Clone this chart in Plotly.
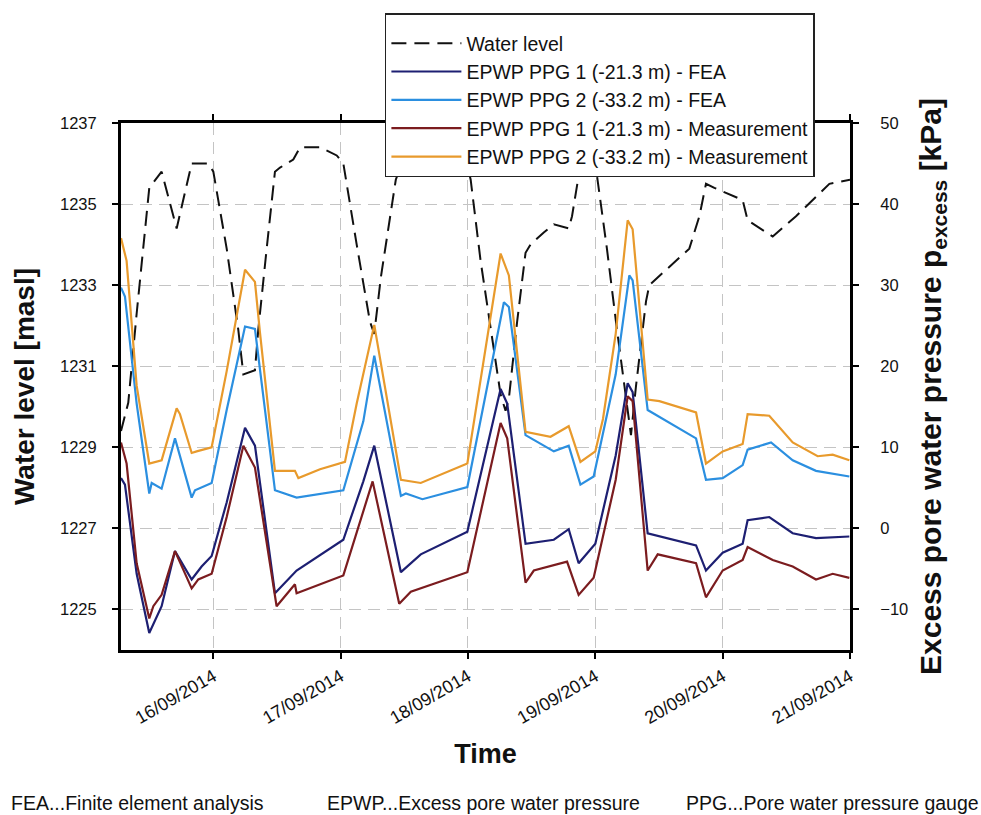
import pandas as pd
import plotly.graph_objects as go

# ---- data (time in days relative to 16/09/2014 00:00) ----
wl_t = [-0.725, -0.668, -0.602, -0.503, -0.406, -0.288, -0.170, -0.039, 0.0, 0.105, 0.196, 0.236,
        0.327, 0.353, 0.419, 0.484, 0.524, 0.628, 0.681, 0.838, 0.969, 1.021, 1.126, 1.230, 1.264,
        1.316, 1.433, 1.55, 1.95, 2.021, 2.099, 2.204, 2.256, 2.295, 2.321, 2.386, 2.452, 2.491,
        2.595, 2.674, 2.791, 2.817, 2.869, 2.94, 3.013, 3.091, 3.170, 3.280, 3.319, 3.398, 3.424,
        3.529, 3.738, 3.817, 3.869, 3.935, 4.157, 4.196, 4.393, 4.576, 4.838, 5.0]
wl_v = [1229.4, 1230.1, 1232.3, 1235.4, 1235.8, 1234.4, 1236.0, 1236.0, 1235.8, 1233.9, 1231.9, 1230.8,
        1230.9, 1231.9, 1233.9, 1235.8, 1235.9, 1236.1, 1236.4, 1236.4, 1236.2, 1236.0, 1234.0, 1232.1, 1231.8,
        1233.2, 1235.6, 1236.6, 1236.6, 1235.6, 1233.6, 1231.4, 1230.3, 1229.9, 1230.2, 1232.1, 1233.8, 1234.0,
        1234.3, 1234.5, 1234.4, 1234.7, 1235.7, 1236.5, 1235.7, 1233.9, 1231.9, 1229.3, 1230.5, 1232.6, 1233.0,
        1233.3, 1233.9, 1234.7, 1235.5, 1235.4, 1235.1, 1234.6, 1234.2, 1234.7, 1235.5, 1235.6]

fea1_t = [-0.725, -0.694, -0.602, -0.503, -0.406, -0.301, -0.170, -0.092, -0.013, 0.105, 0.249, 0.327,
          0.484, 0.654, 1.021, 1.178, 1.264, 1.473, 1.629, 1.995, 2.256, 2.308, 2.452, 2.674, 2.791,
          2.869, 3.0, 3.16, 3.254, 3.293, 3.411, 3.791, 3.869, 4.0, 4.157, 4.196, 4.366, 4.550, 4.733, 4.995]
fea1_p = [6.2, 5.4, -5.6, -12.9, -9.6, -2.8, -6.3, -4.7, -3.4, 3.2, 12.4, 10.2,
          -8.0, -5.2, -1.4, 5.8, 10.2, -5.4, -3.2, -0.4, 17.2, 15.4, -1.9, -1.4, -0.1,
          -4.3, -1.9, 9.0, 17.9, 16.8, -0.6, -2.1, -5.2, -3.0, -1.9, 1.0, 1.4, -0.6, -1.2, -1.0]

fea2_t = [-0.725, -0.694, -0.602, -0.503, -0.484, -0.406, -0.301, -0.170, -0.144, -0.013, 0.105, 0.249,
          0.327, 0.484, 0.654, 1.021, 1.178, 1.264, 1.473, 1.512, 1.642, 1.995, 2.282, 2.321, 2.452,
          2.674, 2.791, 2.883, 2.987, 3.16, 3.267, 3.293, 3.411, 3.791, 3.869, 4.0, 4.157, 4.196, 4.380,
          4.550, 4.733, 4.995]
fea2_p = [29.7, 28.6, 15.4, 4.3, 5.6, 4.9, 11.1, 3.8, 4.7, 5.6, 14.6, 24.9,
          24.6, 4.7, 3.8, 4.7, 13.2, 21.3, 4.0, 4.3, 3.6, 5.1, 27.9, 27.3, 11.5,
          9.5, 10.2, 5.4, 6.4, 19.0, 31.2, 30.6, 14.6, 11.1, 6.0, 6.2, 7.8, 9.7, 10.6,
          8.4, 7.1, 6.4]

meas1_t = [-0.725, -0.681, -0.602, -0.503, -0.471, -0.406, -0.301, -0.170, -0.118, -0.013, 0.105, 0.236,
           0.327, 0.497, 0.641, 0.654, 1.021, 1.178, 1.251, 1.460, 1.551, 1.995, 2.256, 2.308, 2.452,
           2.517, 2.778, 2.869, 2.987, 3.16, 3.254, 3.293, 3.411, 3.490, 3.791, 3.869, 4.0, 4.157, 4.196,
           4.393, 4.550, 4.733, 4.864, 4.995]
meas1_p = [10.6, 8.0, -4.3, -11.1, -9.6, -8.2, -2.8, -7.4, -6.3, -5.6, 1.4, 10.2,
           7.5, -9.6, -6.9, -8.0, -5.8, 2.3, 5.8, -9.3, -7.8, -5.4, 13.0, 11.1, -6.7,
           -5.2, -4.1, -8.2, -6.1, 6.0, 16.3, 15.7, -5.2, -3.2, -4.3, -8.5, -5.2, -3.9, -2.3,
           -3.9, -4.7, -6.3, -5.6, -6.1]

meas2_t = [-0.725, -0.681, -0.602, -0.503, -0.406, -0.288, -0.262, -0.170, -0.131, -0.013, 0.105, 0.249,
           0.327, 0.366, 0.484, 0.641, 0.668, 0.838, 1.034, 1.126, 1.264, 1.473, 1.629, 1.995, 2.256,
           2.321, 2.452, 2.648, 2.791, 2.883, 3.0, 3.06, 3.16, 3.254, 3.293, 3.411, 3.503, 3.791, 3.869,
           4.0, 4.157, 4.196, 4.366, 4.550, 4.746, 4.864, 4.995]
meas2_p = [35.8, 33.0, 17.6, 8.0, 8.4, 14.8, 14.1, 9.3, 9.5, 10.0, 19.4, 31.9,
           30.4, 24.2, 7.1, 7.1, 6.2, 7.3, 8.2, 15.4, 25.1, 6.0, 5.6, 8.0, 33.9,
           31.2, 11.9, 11.3, 12.6, 8.2, 9.5, 13.5, 24.0, 38.0, 36.9, 15.9, 15.7, 14.3, 8.0,
           9.5, 10.4, 14.1, 13.9, 10.6, 8.9, 9.1, 8.4]

date_ticks = [0, 1, 2, 3, 4, 5]
left_ticks = [1225, 1227, 1229, 1231, 1233, 1235, 1237]
right_ticks = [-10, 0, 10, 20, 30, 40, 50]
x_range_days = [-0.725, 5.0]

BASE = pd.Timestamp("2014-09-16")


def to_time(days):
    return BASE + pd.to_timedelta(pd.Series(days, dtype=float), unit="D")


FONT = "Liberation Sans, Arial, sans-serif"

fig = go.Figure()
fig.add_trace(go.Scatter(x=to_time(wl_t), y=wl_v, mode="lines", name="Water level",
                         line=dict(color="#111111", width=2, dash="15px,8px"), yaxis="y"))
fig.add_trace(go.Scatter(x=to_time(fea1_t), y=fea1_p, mode="lines", name="EPWP PPG 1 (-21.3 m) - FEA",
                         line=dict(color="#1d1f72", width=2.2), yaxis="y2"))
fig.add_trace(go.Scatter(x=to_time(fea2_t), y=fea2_p, mode="lines", name="EPWP PPG 2 (-33.2 m) - FEA",
                         line=dict(color="#2b8fe0", width=2.2), yaxis="y2"))
fig.add_trace(go.Scatter(x=to_time(meas1_t), y=meas1_p, mode="lines",
                         name="EPWP PPG 1 (-21.3 m) - Measurement",
                         line=dict(color="#7b1c1f", width=2.2), yaxis="y2"))
fig.add_trace(go.Scatter(x=to_time(meas2_t), y=meas2_p, mode="lines",
                         name="EPWP PPG 2 (-33.2 m) - Measurement",
                         line=dict(color="#e89a2c", width=2.2), yaxis="y2"))

grid = dict(showgrid=True, gridcolor="#c4c4c4", gridwidth=1.3, griddash="12px,7px")
axis_common = dict(showline=True, linecolor="black", linewidth=3, mirror="ticks",
                   ticks="outside", ticklen=6, tickwidth=1.5, tickcolor="black",
                   zeroline=False)
tick_font = dict(family=FONT, size=16.5, color="#111")

fig.update_layout(
    width=981, height=815,
    margin=dict(l=121, r=131, t=123, b=165, autoexpand=False),
    paper_bgcolor="white", plot_bgcolor="white",
    font=dict(family=FONT, color="#111"),
    xaxis=dict(type="date", range=list(to_time(x_range_days)), tickvals=list(to_time(date_ticks)),
               tickformat="%d/%m/%Y", tickangle=-30, tickfont=dict(family=FONT, size=18, color="#111"),
               **grid, **axis_common,
               title=dict(text="<b>Time</b>", font=dict(family=FONT, size=27), standoff=18)),
    yaxis=dict(range=[1224, 1237], tickvals=left_ticks, ticklabelstandoff=12, tickfont=tick_font,
               **grid, **axis_common,
               title=dict(text="<b>Water level [masl]</b>", font=dict(family=FONT, size=28), standoff=18)),
    yaxis2=dict(overlaying="y", side="right", range=[-15, 50], tickvals=right_ticks,
                showgrid=False, zeroline=False, showline=False, ticks="outside", ticklen=6,
                tickwidth=1.5, tickcolor="black", ticklabelstandoff=20, tickfont=tick_font,
                title=dict(text="<b>Excess pore water pressure p<sub>excess</sub> [kPa]</b>",
                           font=dict(family=FONT, size=30), standoff=12)),
    legend=dict(x=0.362, y=1.208, xanchor="left", yanchor="top", bgcolor="white",
                bordercolor="#222", borderwidth=1.5, font=dict(family=FONT, size=19.5, color="#111"),
                itemwidth=70, tracegroupgap=0,
                title=dict(text=" ", font=dict(size=7))),
    showlegend=True,
)

notes = [("FEA...Finite element analysis", -0.1536),
         ("EPWP...Excess pore water pressure", 0.2798),
         ("PPG...Pore water pressure gauge", 0.7723)]
for txt, xp in notes:
    fig.add_annotation(text=txt, x=xp, y=-0.290, xref="paper", yref="paper", xanchor="left",
                       yanchor="middle", showarrow=False, font=dict(family=FONT, size=19.5, color="#111"))

fig.write_html("out.html")
